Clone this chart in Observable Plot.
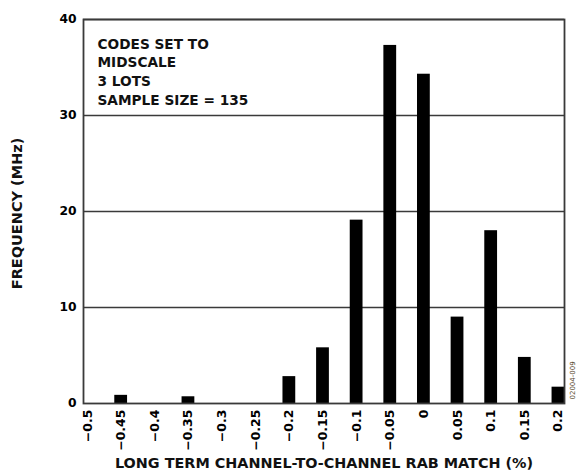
<!DOCTYPE html>
<html>
<head>
<meta charset="utf-8">
<script src="https://cdn.jsdelivr.net/npm/d3@7"></script>
<script src="https://cdn.jsdelivr.net/npm/@observablehq/plot@0.6"></script>
<style>
  html, body { margin: 0; padding: 0; background: #fff; }
  svg { font-family: "DejaVu Sans", sans-serif; font-weight: bold; }
</style>
</head>
<body>
<div id="chart"></div>
<script>
// Data
const matchPct = [-0.45, -0.35, -0.2, -0.15, -0.1, -0.05, 0, 0.05, 0.1, 0.15, 0.2];
const frequency = [0.85, 0.7, 2.8, 5.8, 19.1, 37.3, 34.3, 9.0, 18.0, 4.8, 1.7];
const xTicks = [-0.5, -0.45, -0.4, -0.35, -0.3, -0.25, -0.2, -0.15, -0.1, -0.05, 0, 0.05, 0.1, 0.15, 0.2];
const xTickLabels = ["−0.5", "−0.45", "−0.4", "−0.35", "−0.3", "−0.25", "−0.2", "−0.15", "−0.1", "−0.05", "0", "0.05", "0.1", "0.15", "0.2"];
const yTicks = [0, 10, 20, 30, 40];
const gridLines = [10, 20, 30, 40];
const noteText = "CODES SET TO\nMIDSCALE\n3 LOTS\nSAMPLE SIZE = 135";
const xLabel = "LONG TERM CHANNEL-TO-CHANNEL RAB MATCH (%)";
const yLabel = "FREQUENCY (MHz)";
const figId = "02004-009";

const data = matchPct.map((x, i) => ({x, v: frequency[i]}));
const halfWidth = 0.0095;
const font = "'DejaVu Sans', sans-serif";

const chart = Plot.plot({
  width: 577,
  height: 475,
  marginLeft: 83,
  marginRight: 13,
  marginTop: 19,
  marginBottom: 72,
  style: {fontFamily: font, fontWeight: "bold", background: "#fff", overflow: "visible"},
  x: {domain: [-0.506, 0.209]},
  y: {domain: [0, 40]},
  marks: [
    Plot.ruleY(gridLines, {stroke: "#3a3a3a", strokeWidth: 1.6}),
    Plot.rectY(data, {x1: d => d.x - halfWidth, x2: d => d.x + halfWidth, y1: 0, y2: "v", fill: "#000"}),
    Plot.frame({stroke: "#3a3a3a", strokeWidth: 1.8}),
    Plot.axisY({ticks: yTicks, tickSize: 0, tickPadding: 7, fontSize: 12.3, fontWeight: "bold", label: null}),
    Plot.axisX({ticks: xTicks, tickFormat: d => xTickLabels[xTicks.indexOf(d)], tickSize: 0, tickPadding: 6, tickRotate: -90, fontSize: 12.5, fontWeight: "bold", label: null}),
    Plot.text([noteText], {frameAnchor: "top-left", dx: 14, dy: 16, textAnchor: "start", lineAnchor: "top", lineHeight: 1.36, fontSize: 13.7, fontWeight: "bold", fill: "#111"}),
    Plot.text([xLabel], {frameAnchor: "bottom", dy: 60, lineAnchor: "middle", fontSize: 14.4, fontWeight: "bold", fill: "#111"}),
    Plot.text([yLabel], {x: () => -0.506, y: () => 19.8, dx: -66, rotate: -90, textAnchor: "middle", lineAnchor: "middle", fontSize: 14.5, fontWeight: "bold", fill: "#111"}),
    Plot.text([figId], {frameAnchor: "bottom-right", dx: 8, dy: -4, rotate: -90, textAnchor: "start", lineAnchor: "middle", fontSize: 7, fontWeight: "normal", fill: "#5a4a30"})
  ]
});
document.getElementById("chart").appendChild(chart);
</script>
</body>
</html>
